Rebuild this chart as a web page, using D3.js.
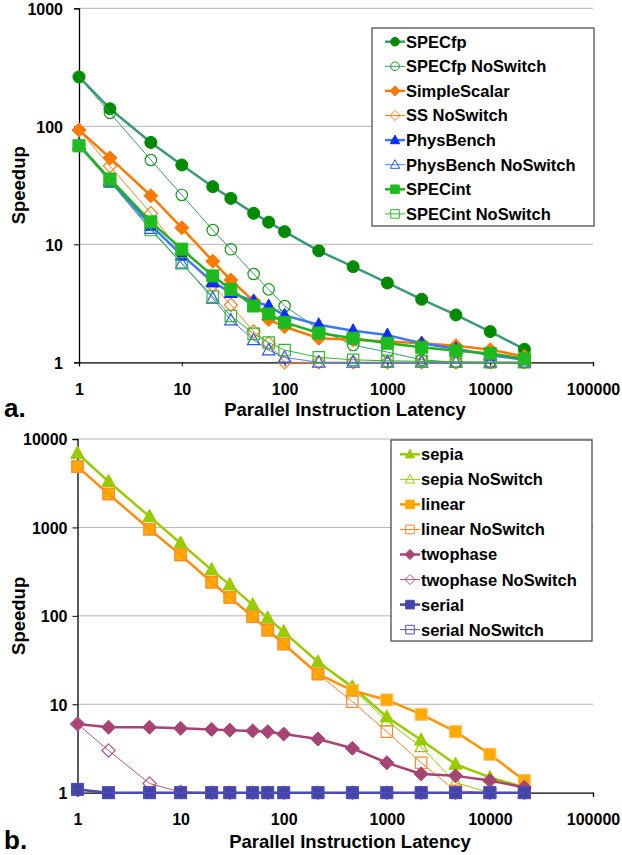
<!DOCTYPE html>
<html>
<head>
<meta charset="utf-8">
<script src="https://cdnjs.cloudflare.com/ajax/libs/d3/7.8.5/d3.min.js"></script>
<style>
body { margin: 0; background: #fff; }
svg { display: block; }
text { font-family: "Liberation Sans", Arial, sans-serif; font-weight: bold; fill: #000; }
</style>
</head>
<body>
<svg id="chart" width="622" height="855"></svg>
<script>
// latency values on the x axis (shared by both panels)
var latency = [1, 2, 5, 10, 20, 30, 50, 70, 100, 215, 464, 1000, 2154, 4642, 10000, 21544];
var xTicks = [1, 10, 100, 1000, 10000, 100000];

// panel a
var specfp     = [262, 141, 73, 47, 30.8, 24.5, 18.3, 15.4, 12.8, 8.8, 6.46, 4.7, 3.42, 2.52, 1.82, 1.29];
var specfpNS   = [262, 130, 51.8, 26.2, 13.2, 9.07, 5.6, 4.15, 3.0, 1.9, 1.4, 1.22, 1.05, 1, 1, 1];
var simpleScalar = [93, 54, 25.8, 13.8, 7.2, 4.98, 3.3, 2.3, 2.0, 1.6, 1.55, 1.5, 1.45, 1.38, 1.28, 1.12];
var ssNS       = [93, 46, 18.3, 8.3, 4.5, 3.06, 1.82, 1.45, 1.0, 1, 1, 1, 1, 1, 1, 1];
var physBench  = [70, 35, 14.5, 8.1, 4.8, 3.9, 3.3, 3.0, 2.5, 2.08, 1.85, 1.7, 1.45, 1.3, 1.15, 1.05];
var physNS     = [70, 34, 13.6, 6.9, 3.48, 2.28, 1.55, 1.27, 1.1, 1, 1, 1, 1, 1, 1, 1];
var specint    = [68.5, 35.8, 15.5, 9.1, 5.4, 4.15, 3.0, 2.57, 2.18, 1.77, 1.6, 1.45, 1.34, 1.25, 1.19, 1.07];
var specintNS  = [68, 34, 13.2, 6.9, 3.6, 2.47, 1.74, 1.47, 1.27, 1.1, 1.05, 1.03, 1.02, 1.01, 1, 1];
var yTicksA = [1, 10, 100, 1000];

// panel b
var sepia      = [6900, 3300, 1325, 663, 331, 224, 133, 94, 66, 30, 15.8, 7.2, 3.95, 2.1, 1.49, 1.15];
var sepiaNS    = [6900, 3300, 1325, 663, 331, 224, 133, 94, 66, 30, 15, 6.5, 3.3, 1.3, 1, 1];
var linear     = [4870, 2390, 955, 489, 240, 161, 98, 69, 48, 22, 14.3, 11.2, 7.7, 4.9, 2.72, 1.37];
var linearNS   = [4870, 2390, 955, 489, 240, 161, 98, 69, 48, 22, 10.7, 4.9, 2.18, 1.05, 1, 1];
var twophase   = [6.0, 5.5, 5.5, 5.35, 5.2, 5.1, 5.0, 4.9, 4.6, 4.05, 3.18, 2.18, 1.63, 1.55, 1.37, 1.15];
var twophaseNS = [6.0, 3.0, 1.27, 1.02, 1, 1, 1, 1, 1, 1, 1, 1, 1, 1, 1, 1];
var serial     = [1.09, 1, 1, 1, 1, 1, 1, 1, 1, 1, 1, 1, 1, 1, 1, 1];
var serialNS   = [1.09, 1, 1, 1, 1, 1, 1, 1, 1, 1, 1, 1, 1, 1, 1, 1];
var yTicksB = [1, 10, 100, 1000, 10000];

var seriesA = [
    {name: 'SPECfp', values: specfp, shape: 'circle', filled: true, mark: '#008a00', line: '#3a9a7a', lw: 2.5},
    {name: 'SPECfp NoSwitch', values: specfpNS, shape: 'circle', filled: false, mark: '#159a15', line: '#3a9a7a', lw: 1},
    {name: 'SimpleScalar', values: simpleScalar, shape: 'diamond', filled: true, mark: '#ff7800', line: '#ff7800', lw: 2.5},
    {name: 'SS NoSwitch', values: ssNS, shape: 'diamond', filled: false, mark: '#ff7f10', line: '#ff8420', lw: 1},
    {name: 'PhysBench', values: physBench, shape: 'triangle', filled: true, mark: '#0a2cff', line: '#3c78ff', lw: 2.5},
    {name: 'PhysBench NoSwitch', values: physNS, shape: 'triangle', filled: false, mark: '#2a50ff', line: '#4a80ff', lw: 1},
    {name: 'SPECint', values: specint, shape: 'square', filled: true, mark: '#1ebb1e', line: '#22b022', lw: 2.5},
    {name: 'SPECint NoSwitch', values: specintNS, shape: 'square', filled: false, mark: '#30b830', line: '#30b830', lw: 1}
];

var seriesB = [
    {name: 'sepia', values: sepia, shape: 'triangle', filled: true, mark: '#99cc00', line: '#99cc00', lw: 2.5},
    {name: 'sepia NoSwitch', values: sepiaNS, shape: 'triangle', filled: false, mark: '#99cc00', line: '#99cc00', lw: 1},
    {name: 'linear', values: linear, shape: 'square', filled: true, mark: '#ffaa00', line: '#ff9400', lw: 2.5, edge: '#ffc060'},
    {name: 'linear NoSwitch', values: linearNS, shape: 'square', filled: false, mark: '#ff8830', line: '#ff8020', lw: 1},
    {name: 'twophase', values: twophase, shape: 'diamond', filled: true, mark: '#a84474', line: '#a84474', lw: 2.5},
    {name: 'twophase NoSwitch', values: twophaseNS, shape: 'diamond', filled: false, mark: '#b25586', line: '#b25586', lw: 1},
    {name: 'serial', values: serial, shape: 'square', filled: true, mark: '#4444a8', line: '#4444a8', lw: 2.5},
    {name: 'serial NoSwitch', values: serialNS, shape: 'square', filled: false, mark: '#5050b8', line: '#5050b8', lw: 1}
];

var svg = d3.select('#chart');

// marker outline around 0,0, s = scale
function markerPath(shape, s) {
    var p = d3.path();
    if (shape == 'circle') {
        p.arc(0, 0, 6 * s, 0, 2 * Math.PI);
    } else if (shape == 'diamond') {
        p.moveTo(0, -7 * s); p.lineTo(7 * s, 0); p.lineTo(0, 7 * s); p.lineTo(-7 * s, 0);
    } else if (shape == 'triangle') {
        p.moveTo(0, -7 * s); p.lineTo(6.5 * s, 5 * s); p.lineTo(-6.5 * s, 5 * s);
    } else {
        p.rect(-6 * s, -6 * s, 12 * s, 12 * s);
    }
    p.closePath();
    return p.toString();
}

function drawPanel(cfg) {
    var x = d3.scaleLog().domain([1, 100000]).range([cfg.left, cfg.right]);
    var y = d3.scaleLog().domain(cfg.yDomain).range([cfg.bottom, cfg.top]);
    var g = svg.append('g');

    // gridlines
    g.selectAll('.grid').data(cfg.yTicks.slice(1)).enter().append('line')
        .attr('x1', cfg.left).attr('x2', cfg.right)
        .attr('y1', function(d) { return y(d); }).attr('y2', function(d) { return y(d); })
        .attr('stroke', '#b4b4b4').attr('stroke-width', 1);

    // axes
    var xAxis = d3.axisBottom(x).tickValues(xTicks).tickSize(4).tickFormat(d3.format('d'));
    var gx = g.append('g').attr('transform', 'translate(0,' + cfg.bottom + ')').call(xAxis);
    gx.select('.domain').attr('stroke', '#000').attr('stroke-width', 1.3);
    gx.selectAll('.tick line').attr('stroke', '#000');
    gx.selectAll('.tick text').attr('font-size', 16).attr('font-family', '"Liberation Sans", Arial, sans-serif')
        .attr('font-weight', 'bold').attr('fill', '#000').attr('y', 0).attr('dy', cfg.xLabelDy);

    var yAxis = d3.axisLeft(y).tickValues(cfg.yTicks).tickSize(5).tickFormat(d3.format('d'));
    var gy = g.append('g').attr('transform', 'translate(' + cfg.left + ',0)').call(yAxis);
    gy.select('.domain').attr('stroke', '#000').attr('stroke-width', 1.3);
    gy.selectAll('.tick line').attr('stroke', '#000');
    gy.selectAll('.tick text').attr('font-size', 16).attr('font-family', '"Liberation Sans", Arial, sans-serif')
        .attr('font-weight', 'bold').attr('fill', '#000').attr('x', cfg.yLabelX).attr('dy', '0.36em');

    // series lines then markers, in legend order
    var line = d3.line()
        .x(function(d, i) { return x(latency[i]); })
        .y(function(d) { return y(d); });

    cfg.series.forEach(function(s) {
        var sg = g.append('g');
        sg.append('path').attr('d', line(s.values))
            .attr('fill', 'none').attr('stroke', s.line).attr('stroke-width', s.lw)
            .attr('stroke-linejoin', 'round');
        sg.selectAll('.m').data(s.values).enter().append('path')
            .attr('transform', function(d, i) { return 'translate(' + x(latency[i]) + ',' + y(d) + ')'; })
            .attr('d', markerPath(s.shape, s.filled ? 1 : 0.95))
            .attr('fill', s.filled ? s.mark : 'none')
            .attr('stroke', s.filled ? (s.edge || s.mark) : s.mark)
            .attr('stroke-width', s.filled ? 1 : 1.2);
    });

    // axis titles
    g.append('text').attr('x', cfg.titleX).attr('y', cfg.titleY)
        .attr('text-anchor', 'middle').attr('font-size', 18.5).text('Parallel Instruction Latency');
    g.append('text').attr('transform', 'translate(' + 25 + ',' + ((cfg.top + cfg.bottom) / 2) + ') rotate(-90)')
        .attr('text-anchor', 'middle').attr('font-size', 18.5).text('Speedup');
    g.append('text').attr('x', 4).attr('y', cfg.titleY + 1).attr('font-size', 26).text(cfg.tag);

    // legend
    var lg = g.append('g');
    lg.append('rect').attr('x', cfg.legend.x).attr('y', cfg.legend.y)
        .attr('width', cfg.legend.w).attr('height', cfg.legend.h)
        .attr('fill', '#fff').attr('stroke', '#404040').attr('stroke-width', 1.2);
    var row = lg.selectAll('.row').data(cfg.series).enter().append('g')
        .attr('transform', function(d, i) {
            return 'translate(' + cfg.legend.sx + ',' + (cfg.legend.y0 + i * cfg.legend.step) + ')';
        });
    row.append('line').attr('x1', 0).attr('x2', 20).attr('y1', 0).attr('y2', 0)
        .attr('stroke', function(d) { return d.line; })
        .attr('stroke-width', function(d) { return d.lw; });
    row.append('path').attr('transform', 'translate(10,0)')
        .attr('d', function(d) { return markerPath(d.shape, 0.72); })
        .attr('fill', function(d) { return d.filled ? d.mark : 'none'; })
        .attr('stroke', function(d) { return d.mark; }).attr('stroke-width', 1);
    row.append('text').attr('x', 21).attr('dy', '0.36em').attr('font-size', 16.5)
        .text(function(d) { return d.name; });
}

drawPanel({
    left: 79, right: 593, top: 8.3, bottom: 362.3, yDomain: [1, 1000], yTicks: yTicksA,
    yLabelX: -16, xLabelDy: 33, titleX: 345, titleY: 416, tag: 'a.', series: seriesA,
    legend: {x: 372, y: 28, w: 222, h: 198, sx: 385, y0: 41.7, step: 24.6}
});

drawPanel({
    left: 77.5, right: 593, top: 439, bottom: 792.7, yDomain: [1, 10000], yTicks: yTicksB,
    yLabelX: -10, xLabelDy: 32, titleX: 350, titleY: 848, tag: 'b.', series: seriesB,
    legend: {x: 391, y: 440, w: 201, h: 201, sx: 400, y0: 454.3, step: 25.05}
});
</script>
</body>
</html>
